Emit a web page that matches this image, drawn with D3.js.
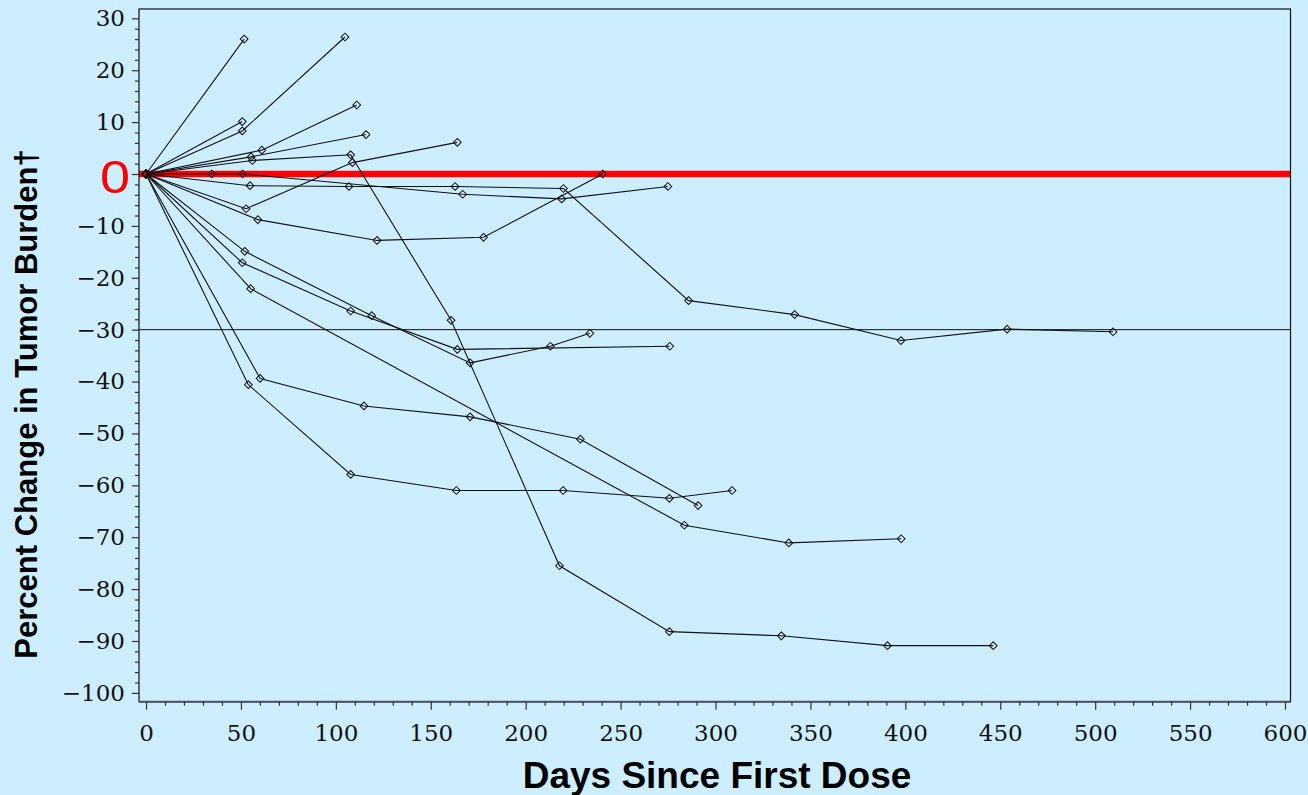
<!DOCTYPE html>
<html>
<head>
<meta charset="utf-8">
<script src="https://cdn.jsdelivr.net/npm/d3@7"></script>
<style>
  html, body { margin: 0; padding: 0; background: #cceeff; }
  svg { display: block; }
</style>
</head>
<body>
<svg id="chart" width="1308" height="795"></svg>
<script>
// each patient: [days since first dose, percent change]
var pt01 = [[0,0],[51.7,26.0]];
var pt02 = [[0,0],[50.7,8.3],[104.8,26.4]];
var pt03 = [[0,0],[50.7,10.1]];
var pt04 = [[0,0],[61,4.6],[111,13.3]];
var pt05 = [[0,0],[55.3,3.3],[115.9,7.6]];
var pt06 = [[0,0],[56,2.6],[107.8,3.7],[160.7,-28.2],[217.8,-75.5],[275.7,-88.2],[334.7,-89],[390.6,-90.9],[446.3,-90.9]];
var pt07 = [[0,0],[52.7,-6.7],[108.7,2.2],[164,6.1]];
var pt08 = [[0,0],[34.6,0],[50.9,0],[166.8,-3.9],[219,-4.8],[274.9,-2.4]];
var pt09 = [[0,0],[54.8,-2.25],[106.9,-2.4],[162.8,-2.4],[219.9,-2.8],[285.8,-24.4],[341.7,-27.1],[397.7,-32.1],[453.6,-29.9],[509.4,-30.4]];
var pt10 = [[0,0],[58.9,-8.8],[121.7,-12.8],[177.8,-12.2],[240.6,0]];
var pt11 = [[0,0],[52,-14.9],[118.9,-27.3],[170.7,-36.4],[213,-33.2],[233.8,-30.7]];
var pt12 = [[0,0],[50.7,-17.1],[107.8,-26.4],[164,-33.8],[275.9,-33.2]];
var pt13 = [[0,0],[55.1,-22.1],[283.6,-67.7],[338.6,-71.1],[397.8,-70.3]];
var pt14 = [[0,0],[60.1,-39.4],[114.8,-44.7],[170.7,-46.8],[228.8,-51.1],[290.8,-63.9]];
var pt15 = [[0,0],[53.9,-40.6],[107.8,-57.9],[163.5,-61],[219.7,-61],[275.7,-62.5],[308.7,-61]];
var patients = [pt01, pt02, pt03, pt04, pt05, pt06, pt07, pt08, pt09, pt10, pt11, pt12, pt13, pt14, pt15];

var xTicks = d3.range(0, 601, 50);
var xMinor = d3.range(0, 601, 10);
var yTicks = d3.range(-100, 31, 10);
var yMinor = d3.range(-100, 31, 2);
var refLine = -30;

var bg = "#cceeff";
var svg = d3.select("#chart");
var pLeft = 139, pRight = 1290.5, pTop = 9, pBottom = 701.7;

var x = d3.scaleLinear().domain([-3.7, 602.9]).range([pLeft, pRight]);
var y = d3.scaleLinear().domain([-101.7, 31.8]).range([pBottom, pTop]);

svg.append("rect")
  .attr("width", 1308).attr("height", 795)
  .attr("fill", bg);

// zero line, thick red
svg.append("line")
  .attr("x1", pLeft).attr("x2", pRight)
  .attr("y1", y(0)).attr("y2", y(0))
  .attr("stroke", "#ff0000")
  .attr("stroke-width", 6.5);

// -30% line
svg.append("line")
  .attr("x1", pLeft).attr("x2", pRight)
  .attr("y1", y(refLine)).attr("y2", y(refLine))
  .attr("stroke", "#111")
  .attr("stroke-width", 1);

var line = d3.line()
  .x(function(d){ return x(d[0]); })
  .y(function(d){ return y(d[1]); });

svg.append("g").selectAll("path")
  .data(patients)
  .enter().append("path")
    .attr("d", line)
    .attr("fill", "none")
    .attr("stroke", "#111")
    .attr("stroke-width", 1.1);

var diamond = d3.symbol().type(d3.symbolSquare).size(30);
svg.append("g").selectAll("g")
  .data(patients)
  .enter().append("g")
  .selectAll("path")
  .data(function(d){ return d; })
  .enter().append("path")
    .attr("d", diamond)
    .attr("transform", function(d){ return "translate(" + x(d[0]) + "," + y(d[1]) + ") rotate(45)"; })
    .attr("fill", "none")
    .attr("stroke", "#111")
    .attr("stroke-width", 1);

// frame
svg.append("rect")
  .attr("x", pLeft).attr("y", pTop)
  .attr("width", pRight - pLeft).attr("height", pBottom - pTop)
  .attr("fill", "none")
  .attr("stroke", "#111")
  .attr("stroke-width", 1.2);
svg.append("line")
  .attr("x1", pLeft).attr("x2", pRight)
  .attr("y1", pBottom).attr("y2", pBottom)
  .attr("stroke", "#4a5560")
  .attr("stroke-width", 2);

var tickFont = "'DejaVu Serif', serif";

// x axis
var xMinorAxis = d3.axisBottom(x)
  .tickValues(xMinor.filter(function(d){ return d % 50 !== 0; }))
  .tickSize(4).tickSizeOuter(0).tickFormat("");
svg.append("g")
  .attr("transform", "translate(0," + pBottom + ")")
  .call(xMinorAxis)
  .call(function(g){ g.select(".domain").remove(); });

var xAxis = d3.axisBottom(x)
  .tickValues(xTicks)
  .tickSize(8).tickSizeOuter(0).tickPadding(15);
svg.append("g")
  .attr("class", "axis x")
  .attr("transform", "translate(0," + pBottom + ")")
  .call(xAxis)
  .call(function(g){ g.select(".domain").remove(); });

// y axis
var yMinorAxis = d3.axisLeft(y)
  .tickValues(yMinor.filter(function(d){ return d % 10 !== 0; }))
  .tickSize(4).tickSizeOuter(0).tickFormat("");
svg.append("g")
  .attr("transform", "translate(" + pLeft + ",0)")
  .call(yMinorAxis)
  .call(function(g){ g.select(".domain").remove(); });

var yAxis = d3.axisLeft(y)
  .tickValues(yTicks)
  .tickSize(7).tickSizeOuter(0).tickPadding(7)
  .tickFormat(function(d){ return d === 0 ? "" : d3.format("d")(d); });
svg.append("g")
  .attr("class", "axis y")
  .attr("transform", "translate(" + pLeft + ",0)")
  .call(yAxis)
  .call(function(g){ g.select(".domain").remove(); });

svg.selectAll(".tick line").attr("stroke", "#333").attr("stroke-width", 1.2);
svg.selectAll(".axis text")
  .attr("font-family", tickFont)
  .attr("font-size", 23)
  .attr("fill", "#111");

// big red zero
svg.append("text")
  .attr("transform", "translate(130," + (y(0) + 18.5) + ") scale(1.15,1)")
  .attr("text-anchor", "end")
  .attr("font-family", "'Liberation Sans', Arial, sans-serif")
  .attr("font-size", 47)
  .attr("fill", "#ff0000")
  .text("0");

// axis titles
svg.append("text")
  .attr("x", 717).attr("y", 788)
  .attr("text-anchor", "middle")
  .attr("font-family", "'Liberation Sans', Arial, sans-serif")
  .attr("font-weight", "bold")
  .attr("font-size", 37)
  .attr("fill", "#000")
  .text("Days Since First Dose");

svg.append("text")
  .attr("transform", "translate(37,404) rotate(-90)")
  .attr("text-anchor", "middle")
  .attr("font-family", "'Liberation Sans', Arial, sans-serif")
  .attr("font-weight", "bold")
  .attr("font-size", 31)
  .attr("fill", "#000")
  .text("Percent Change in Tumor Burden\u2020");
</script>
</body>
</html>
